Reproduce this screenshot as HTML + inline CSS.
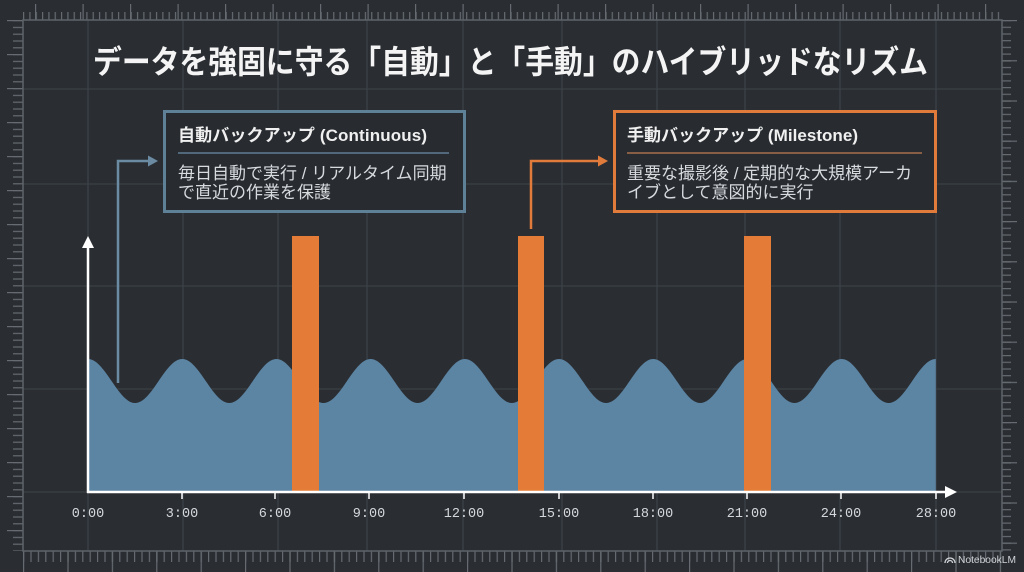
<!DOCTYPE html>
<html><head><meta charset="utf-8"><style>
html,body{margin:0;padding:0;background:#2a2e33;}
svg{display:block;}
.t{font-family:"Liberation Sans","Noto Sans CJK JP",sans-serif;}
.m{font-family:"Liberation Mono",monospace;}
</style></head><body>
<svg width="1024" height="572" viewBox="0 0 1024 572" xmlns="http://www.w3.org/2000/svg">
<defs>
<pattern id="tmin" x="23" y="0" width="6.33" height="20" patternUnits="userSpaceOnUse"><line x1="0.6" y1="12" x2="0.6" y2="20" stroke="#656b71" stroke-width="1.2"/></pattern>
<pattern id="tmaj" x="35" y="0" width="47.5" height="20" patternUnits="userSpaceOnUse"><line x1="0.6" y1="4" x2="0.6" y2="20" stroke="#656b71" stroke-width="1.2"/></pattern>
<pattern id="lmin" x="0" y="20" width="23" height="6.8" patternUnits="userSpaceOnUse"><line x1="13" y1="0.6" x2="23" y2="0.6" stroke="#656b71" stroke-width="1.2"/></pattern>
<pattern id="lmaj" x="0" y="20" width="23" height="34" patternUnits="userSpaceOnUse"><line x1="7" y1="0.6" x2="23" y2="0.6" stroke="#656b71" stroke-width="1.2"/></pattern>
<pattern id="bmin" x="23" y="551" width="7.4" height="21" patternUnits="userSpaceOnUse"><line x1="0.6" y1="0" x2="0.6" y2="11" stroke="#656b71" stroke-width="1.2"/></pattern>
<pattern id="bmaj" x="23" y="551" width="44.4" height="21" patternUnits="userSpaceOnUse"><line x1="0.6" y1="0" x2="0.6" y2="21" stroke="#656b71" stroke-width="1.2"/></pattern>
<pattern id="rmin" x="1002" y="20" width="22" height="6.7" patternUnits="userSpaceOnUse"><line x1="0" y1="0.6" x2="9" y2="0.6" stroke="#656b71" stroke-width="1.2"/></pattern>
<pattern id="rmaj" x="1002" y="20" width="22" height="40.2" patternUnits="userSpaceOnUse"><line x1="0" y1="0.6" x2="15" y2="0.6" stroke="#656b71" stroke-width="1.2"/></pattern>
</defs>
<rect width="1024" height="572" fill="#2a2e33"/>
<!-- rulers -->
<rect x="23" y="0" width="979" height="20" fill="url(#tmin)"/>
<rect x="23" y="0" width="979" height="20" fill="url(#tmaj)"/>
<rect x="0" y="20" width="23" height="531" fill="url(#lmin)"/>
<rect x="0" y="20" width="23" height="531" fill="url(#lmaj)"/>
<rect x="23" y="551" width="979" height="21" fill="url(#bmin)"/>
<rect x="23" y="551" width="979" height="21" fill="url(#bmaj)"/>
<rect x="1002" y="20" width="22" height="531" fill="url(#rmin)"/>
<rect x="1002" y="20" width="22" height="531" fill="url(#rmaj)"/>
<!-- grid -->
<g stroke="#3b4046" stroke-width="1.3">
<line x1="88" y1="20" x2="88" y2="551"/>
<line x1="183" y1="20" x2="183" y2="551"/>
<line x1="278" y1="20" x2="278" y2="551"/>
<line x1="367" y1="20" x2="367" y2="551"/>
<line x1="463" y1="20" x2="463" y2="551"/>
<line x1="562" y1="20" x2="562" y2="551"/>
<line x1="657" y1="20" x2="657" y2="551"/>
<line x1="745" y1="20" x2="745" y2="551"/>
<line x1="840" y1="20" x2="840" y2="551"/>
<line x1="936" y1="20" x2="936" y2="551"/>
<line x1="23" y1="89" x2="1002" y2="89"/>
<line x1="23" y1="184" x2="1002" y2="184"/>
<line x1="23" y1="286" x2="1002" y2="286"/>
<line x1="23" y1="389" x2="1002" y2="389"/>
<line x1="23" y1="492" x2="1002" y2="492"/>
</g>
<rect x="23" y="20" width="979" height="531" fill="none" stroke="#5d6369" stroke-width="1.5"/>
<!-- title -->
<text class="t" x="93" y="73" font-size="32" font-weight="bold" fill="#f4f4f4" textLength="835" lengthAdjust="spacingAndGlyphs">データを強固に守る「自動」と「手動」のハイブリッドなリズム</text>
<!-- boxes -->
<rect x="164.5" y="111.5" width="300" height="100" fill="#282c31" stroke="#5f8198" stroke-width="3"/>
<text class="t" x="178" y="141" font-size="17" font-weight="bold" fill="#f0f0f0" textLength="249" lengthAdjust="spacing">自動バックアップ (Continuous)</text>
<line x1="178" y1="153" x2="449" y2="153" stroke="#5d7d92" stroke-width="1.5"/>
<text class="t" x="178" y="179" font-size="17" fill="#d8dbde">毎日自動で実行 / リアルタイム同期</text>
<text class="t" x="178" y="198" font-size="17" fill="#d8dbde">で直近の作業を保護</text>

<rect x="614.5" y="111.5" width="321" height="100" fill="#282c31" stroke="#e07b3b" stroke-width="3"/>
<text class="t" x="627" y="141" font-size="17" font-weight="bold" fill="#f0f0f0" textLength="231" lengthAdjust="spacing">手動バックアップ (Milestone)</text>
<line x1="627" y1="153" x2="922" y2="153" stroke="#a8704c" stroke-width="1.5"/>
<text class="t" x="627" y="179" font-size="17" fill="#d8dbde">重要な撮影後 / 定期的な大規模アーカ</text>
<text class="t" x="627" y="198" font-size="17" fill="#d8dbde">イブとして意図的に実行</text>
<!-- wave -->
<path d="M88,492 L88,359 C105,359 118.1,403 135.1,403 S165.2,359 182.2,359 S212.3,403 229.3,403 S259.4,359 276.4,359 S306.5,403 323.5,403 S353.6,359 370.6,359 S400.7,403 417.7,403 S447.8,359 464.8,359 S494.9,403 511.9,403 S542,359 559,359 S589.1,403 606.1,403 S636.2,359 653.2,359 S683.3,403 700.3,403 S730.4,359 747.4,359 S777.5,403 794.5,403 S824.6,359 841.6,359 S871.7,403 888.7,403 S918.8,359 935.8,359 L935.8,492 Z" fill="#5c84a3"/>
<!-- bars -->
<rect x="292" y="236" width="27" height="256" fill="#e47c38"/>
<rect x="518" y="236" width="26" height="256" fill="#e47c38"/>
<rect x="744" y="236" width="27" height="256" fill="#e47c38"/>
<!-- connectors -->
<polyline points="118,383 118,161 150,161" fill="none" stroke="#6b8ba3" stroke-width="2.5"/>
<polygon points="148,155.5 158,161 148,166.5" fill="#6b8ba3"/>
<polyline points="531,229 531,161 600,161" fill="none" stroke="#e07b3b" stroke-width="2.5"/>
<polygon points="598,155.5 608,161 598,166.5" fill="#e07b3b"/>
<!-- axes -->
<line x1="88" y1="246" x2="88" y2="493" stroke="#ffffff" stroke-width="2.5"/>
<polygon points="82,248 88,236 94,248" fill="#ffffff"/>
<line x1="87" y1="492" x2="946" y2="492" stroke="#ffffff" stroke-width="2.5"/>
<polygon points="945,486 957,492 945,498" fill="#ffffff"/>
<g stroke="#ffffff" stroke-width="1.5">
<line x1="182" y1="492" x2="182" y2="499"/>
<line x1="275" y1="492" x2="275" y2="499"/>
<line x1="369" y1="492" x2="369" y2="499"/>
<line x1="464" y1="492" x2="464" y2="499"/>
<line x1="559" y1="492" x2="559" y2="499"/>
<line x1="653" y1="492" x2="653" y2="499"/>
<line x1="747" y1="492" x2="747" y2="499"/>
<line x1="841" y1="492" x2="841" y2="499"/>
<line x1="936" y1="492" x2="936" y2="499"/>
</g>
<g class="m" font-size="13.5" fill="#d5d8db" text-anchor="middle">
<text x="88" y="517">0:00</text>
<text x="182" y="517">3:00</text>
<text x="275" y="517">6:00</text>
<text x="369" y="517">9:00</text>
<text x="464" y="517">12:00</text>
<text x="559" y="517">15:00</text>
<text x="653" y="517">18:00</text>
<text x="747" y="517">21:00</text>
<text x="841" y="517">24:00</text>
<text x="936" y="517">28:00</text>
</g>
<!-- logo -->
<g fill="none" stroke="#d0d4d7" stroke-width="1.3">
<path d="M945,563 a5,5 0 0 1 10,0"/>
<path d="M947.5,563 a2.5,2.5 0 0 1 5,0"/>
</g>
<text class="t" x="958" y="563" font-size="10.5" fill="#d0d4d7" textLength="58" lengthAdjust="spacingAndGlyphs">NotebookLM</text>
</svg>
</body></html>
